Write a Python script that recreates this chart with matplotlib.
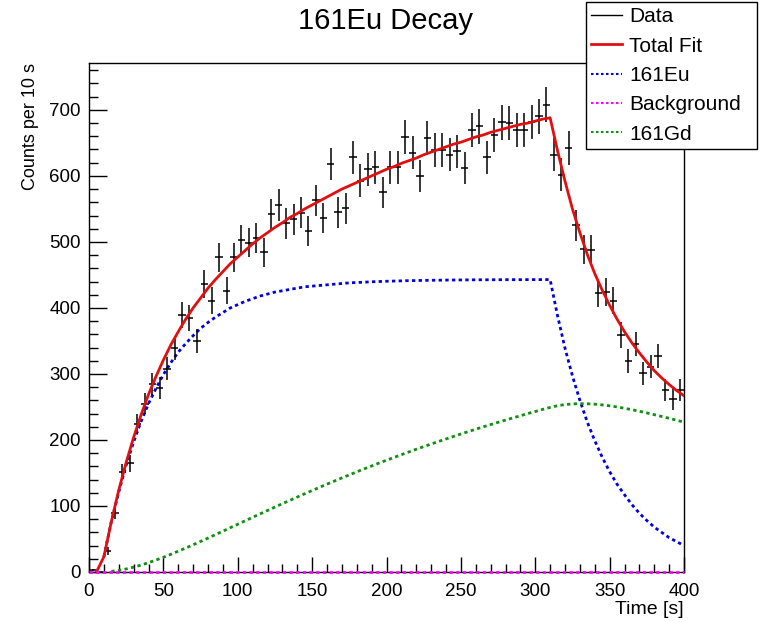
import numpy as np
import matplotlib.pyplot as plt
from matplotlib.ticker import MultipleLocator
from matplotlib.lines import Line2D

plt.rcParams['font.family'] = ['Liberation Sans', 'DejaVu Sans']

# histogram (5 s bins)
bin_centers = np.arange(2.5, 400, 5)
counts = [3, 0, 32, 89, 151, 165, 224, 255, 285, 279,
          308, 339, 389, 385, 350, 436, 411, 477, 426, 477,
          503, 499, 506, 484, 542, 556, 528, 534, 544, 517,
          563, 536, 618, 545, 551, 628, 593, 610, 613, 575,
          613, 613, 659, 635, 600, 657, 639, 639, 632, 637,
          612, 669, 675, 628, 662, 681, 680, 669, 669, 682,
          690, 708, 632, 602, 642, 525, 489, 488, 422, 424,
          411, 359, 320, 345, 301, 311, 327, 276, 262, 276]

# fit curves, every 5 s
fit_t = np.arange(0, 405, 5)
total_fit = [0, 0, 23, 76, 124, 166, 204, 238, 269, 296,
             321, 344, 364, 383, 400, 415, 430, 443, 455, 467,
             477, 487, 497, 506, 514, 522, 529, 537, 543, 550,
             556, 562, 568, 574, 580, 585, 590, 595, 600, 605,
             610, 614, 619, 623, 627, 632, 636, 640, 644, 648,
             651, 655, 659, 662, 666, 669, 672, 675, 678, 680,
             683, 686, 688, 638, 592, 550, 514, 481, 452, 427,
             404, 383, 364, 347, 332, 318, 305, 294, 284, 275, 267]
eu_fit = [0, 0, 23, 76, 121, 162, 197, 228, 255, 278,
          299, 317, 333, 346, 358, 369, 378, 386, 393, 400,
          405, 410, 414, 418, 421, 424, 426, 428, 430, 432,
          433, 434, 435, 436, 437, 438, 438.5, 439, 439.6, 440,
          440.4, 440.7, 441, 441.3, 441.5, 441.7, 441.9, 442, 442.2, 442.3,
          442.4, 442.5, 442.6, 442.6, 442.7, 442.7, 442.8, 442.8, 442.8, 442.9,
          442.9, 442.9, 443, 388, 339, 297, 260, 227, 199, 174,
          152, 133, 117, 102, 89, 78, 68, 60, 52, 46, 40]
gd_fit = [0, 0, 0, 0.9, 2.4, 4.6, 7.3, 10.5, 14.1, 18.1,
          22.3, 26.8, 31.5, 36.3, 41.2, 46.3, 51.4, 56.6, 61.8, 67.1,
          72.3, 77.6, 82.8, 88.0, 93.2, 98.3, 103.5, 108.5, 113.5, 118.5,
          123.4, 128.3, 133.1, 137.8, 142.5, 147.1, 151.7, 156.2, 160.6, 165.0,
          169.3, 173.5, 177.7, 181.8, 185.9, 189.9, 193.8, 197.7, 201.5, 205.3,
          209.0, 212.7, 216.3, 219.9, 223.3, 226.7, 230.1, 233.4, 236.7, 240.0,
          243.1, 246.3, 249.3, 251.9, 253.6, 254.6, 255.0, 254.8, 254.2, 253.1,
          251.7, 250.0, 248.0, 245.8, 243.5, 241.0, 238.3, 235.6, 232.8, 229.9, 227.0]
bkg_t = [0, 400]
bkg_fit = [0, 0]

counts = np.array(counts)
errs = np.sqrt(counts)

fig = plt.figure(figsize=(7.61, 6.22), dpi=100)
ax = fig.add_axes([89/761, 1-572/622, 595/761, 509/622])

dots = (0, (1.2, 1.2))
ax.errorbar(bin_centers, counts, yerr=errs, xerr=2.5, fmt='none',
            ecolor='black', elinewidth=1.1, capsize=0, zorder=4)
ax.plot(fit_t[1:], total_fit[1:], color='#e01010', lw=2, zorder=5)
ax.plot(fit_t[2:], eu_fit[2:], color='#0000e0', lw=2, ls=dots, zorder=3)
ax.plot(bkg_t, bkg_fit, color='#ff00ff', lw=2, ls=dots, zorder=6, clip_on=False)
ax.plot(fit_t[3:], gd_fit[3:], color='#109010', lw=2, ls=dots, zorder=3)

ax.set_xlim(0, 400)
ax.set_ylim(0, 771)
ax.xaxis.set_major_locator(MultipleLocator(50))
ax.xaxis.set_minor_locator(MultipleLocator(10))
ax.yaxis.set_major_locator(MultipleLocator(100))
ax.yaxis.set_minor_locator(MultipleLocator(20))
ax.tick_params(which='both', direction='in', top=False, right=False,
               labelsize=13.5, width=1)
ax.tick_params(axis='y', which='major', length=13, pad=6)
ax.tick_params(axis='y', which='minor', length=6.5)
ax.tick_params(axis='x', which='major', length=11, pad=8)
ax.tick_params(axis='x', which='minor', length=5.5)
for s in ax.spines.values():
    s.set_linewidth(1)

ax.set_xlabel('Time [s]', fontsize=14, loc='right', labelpad=1)
ax.set_ylabel('Counts per 10 s', fontsize=13, loc='top', labelpad=7)
fig.text(386/761, 1-21/622, '161Eu Decay', fontsize=21, ha='center', va='center')

handles = [Line2D([], [], color='black', lw=1),
           Line2D([], [], color='#e01010', lw=2),
           Line2D([], [], color='#0000e0', lw=1.5, ls=dots),
           Line2D([], [], color='#ff00ff', lw=1.5, ls=dots),
           Line2D([], [], color='#109010', lw=1.5, ls=dots)]
labels = ['Data', 'Total Fit', '161Eu', 'Background', '161Gd']
leg = ax.legend(handles, labels, loc='lower left',
                bbox_to_anchor=(586/761, 1-149/622, 171/761, 0.2),
                bbox_transform=fig.transFigure, mode='expand',
                fontsize=15, frameon=True, fancybox=False, framealpha=1,
                edgecolor='black', borderaxespad=0, borderpad=0.25,
                handlelength=1.5, handletextpad=0.33, labelspacing=0.5)
leg.get_frame().set_linewidth(1)
leg.set_zorder(10)

fig.savefig('out.png', dpi=100)
